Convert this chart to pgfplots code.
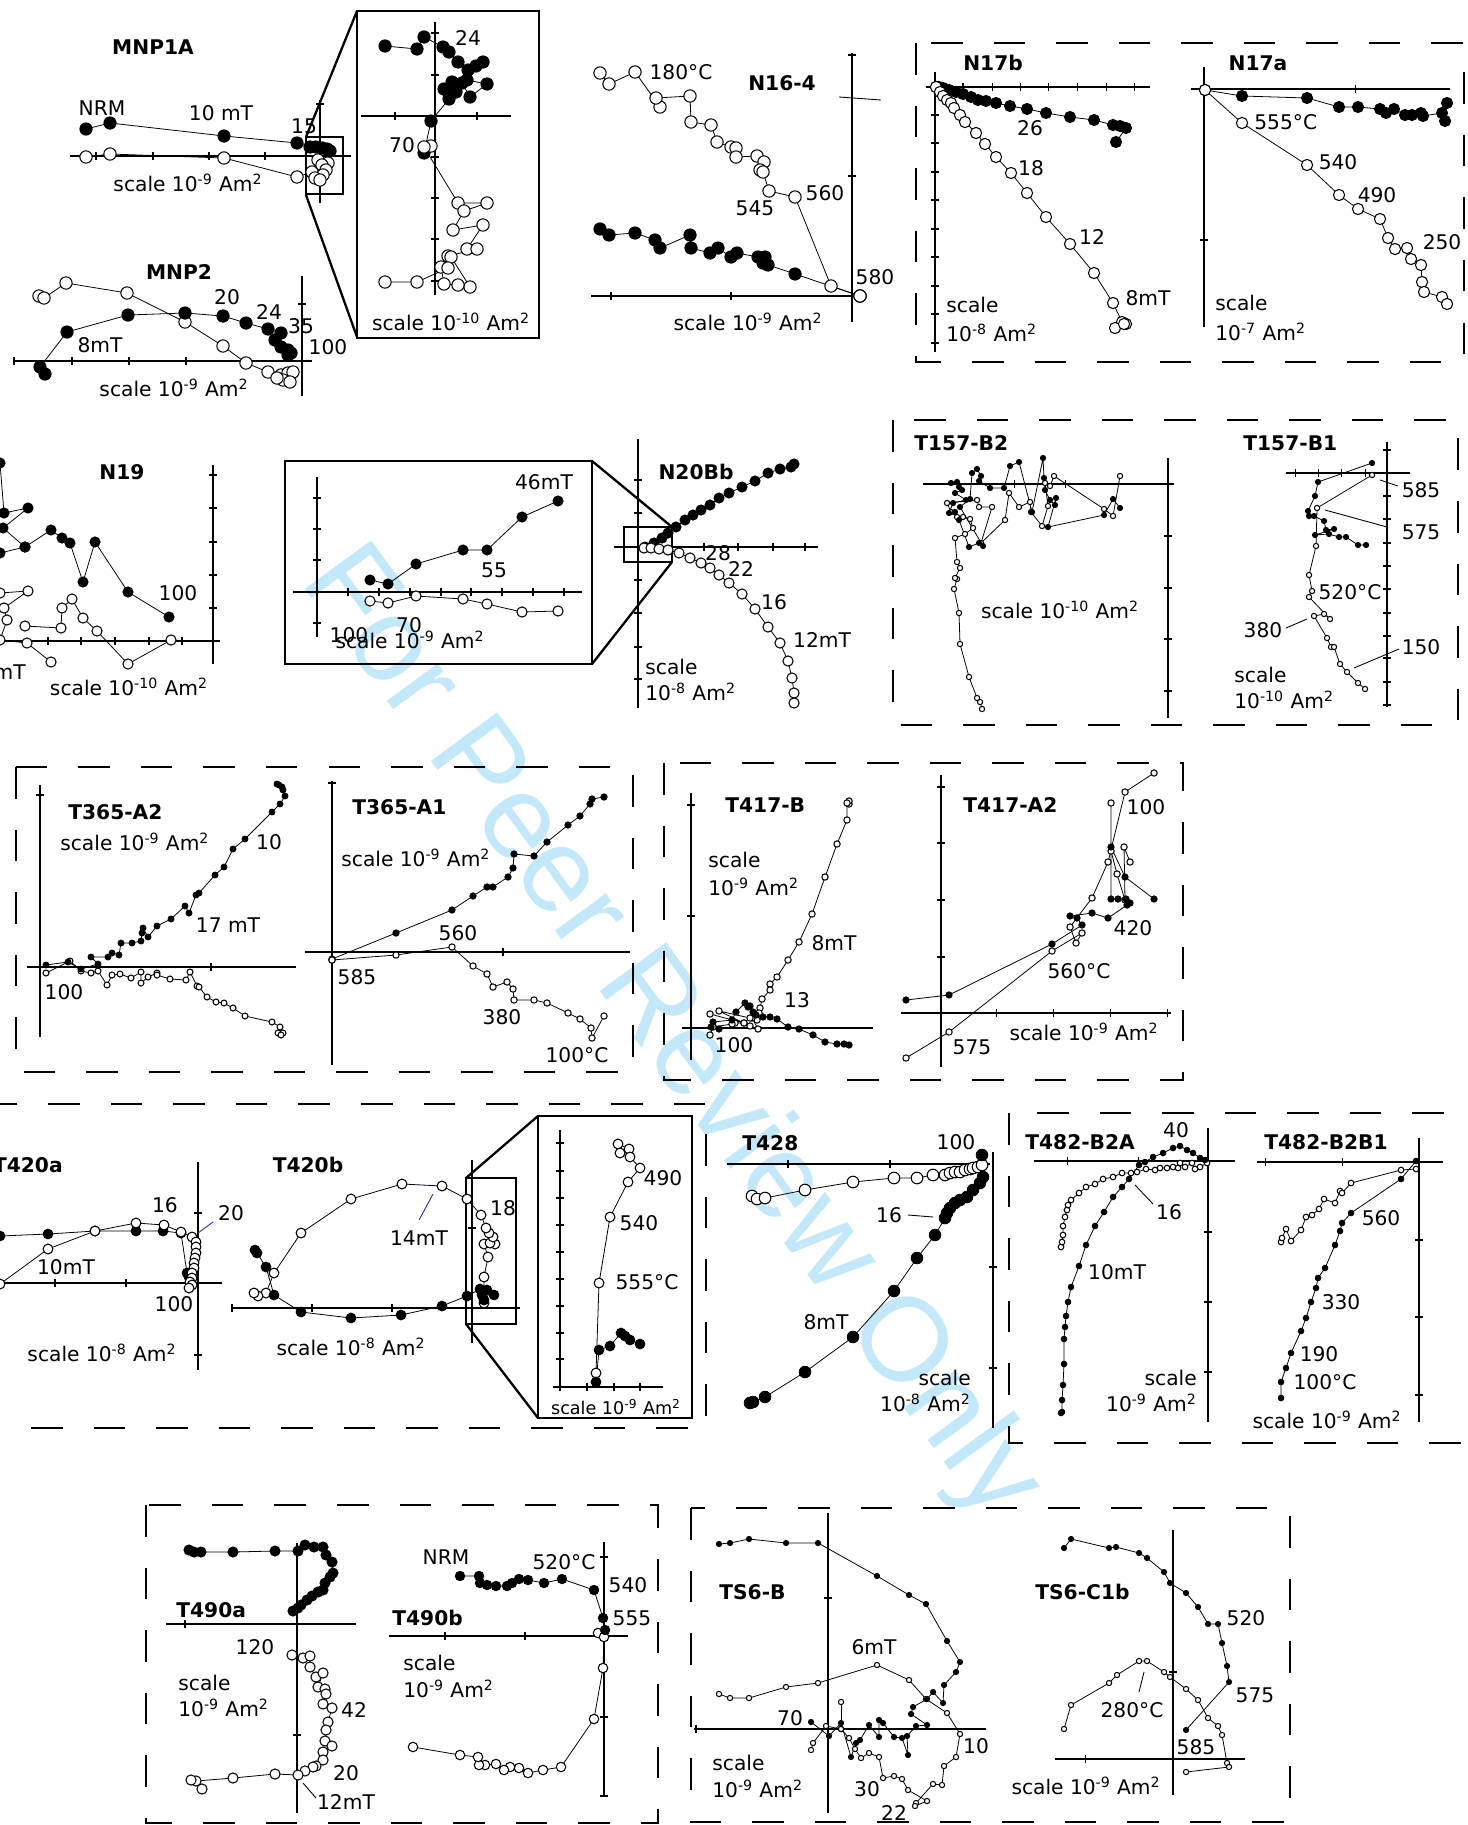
\documentclass[border=0pt]{standalone}
\usepackage{pgfplots}
\pgfplotsset{compat=1.18}
\usepackage{fontspec}
\setmainfont{DejaVu Sans}
\newfontfamily\wmfont{Liberation Sans}
\definecolor{wmc}{RGB}{195,232,250}
\definecolor{lead}{RGB}{40,40,170}
\newcommand{\scl}[1]{scale 10\textsuperscript{#1} Am\textsuperscript{2}}
\newcommand{\sce}[1]{10\textsuperscript{#1} Am\textsuperscript{2}}
\pgfplotsset{
 F/.style={black, line width=0.45pt, mark=*, mark options={fill=black, draw=black, line width=0.5pt}},
 O/.style={black, line width=0.45pt, mark=*, mark options={fill=white, draw=black, line width=0.6pt}},
 AX/.style={black, line width=0.7pt},
 TX/.style={black, only marks, mark=|, mark size=2.2pt, mark options={line width=0.6pt}},
 TY/.style={black, only marks, mark=-, mark size=2.2pt, mark options={line width=0.6pt}},
}
\tikzset{
 T/.style={font=\fontsize{11.5}{13}\selectfont, inner sep=0pt},
 S/.style={font=\fontsize{10}{12}\selectfont, inner sep=0pt},
 B/.style={font=\fontsize{11.5}{13}\selectfont\bfseries, inner sep=0pt},
 DB/.style={line width=1.6pt, dash pattern=on 0.63cm off 0.62cm},
 IB/.style={line width=1.3pt},
 LD/.style={line width=0.5pt},
}
\begin{document}
\begin{tikzpicture}
\begin{axis}[name=ax, at={(0,0)}, anchor=south west, scale only axis,
 width=29.34cm, height=36.5cm, xmin=0, xmax=1467, ymin=0, ymax=1825,
 y dir=reverse, hide axis, clip=false]

% watermark
\node[rotate=-53.8, text=wmc, font=\fontsize{68}{70}\selectfont\wmfont, inner sep=0pt] at (670,1035) {For Peer Review Only};

% ================= MNP1A =================
\addplot[AX] coordinates {(70,156) (351,156)};
\addplot[AX] coordinates {(320,100) (320,203)};
\addplot[TX] coordinates {(96,156) (153,156) (209,156) (265,156)};
\addplot[TY] coordinates {(320,104)};
\addplot[O, mark size=3.5pt] coordinates {(86,157) (110,154) (224,158) (297,177) (312,172) (318,160) (328,163) (322,165) (326,170) (323,175) (315,178) (320,180)};
\addplot[F, mark size=3.5pt] coordinates {(86,129) (110,123) (224,136) (297,143) (310,147) (316,147) (322,148) (327,149) (330,151)};
\draw[IB] (306,137) rectangle (343,194);
\draw[IB] (357,11) rectangle (539,338);
\draw[IB] (306,137) -- (357,11);
\draw[IB] (306,195) -- (357,337);
\addplot[AX] coordinates {(361,116) (511,116)};
\addplot[AX] coordinates {(435,22) (435,295)};
\addplot[TX] coordinates {(395,116) (477,116)};
\addplot[TY] coordinates {(435,33) (435,75) (435,157) (435,198) (435,239) (435,281)};
\addplot[F, mark size=3.5pt] coordinates {(385,46) (417,49) (424,37) (443,47) (449,52) (458,62) (468,70) (476,66) (483,62) (467,80) (487,84) (470,97) (462,83) (452,82) (444,89) (449,93) (456,92) (449,99) (431,121) (424,153)};
\addplot[O, mark size=3.5pt] coordinates {(431,146) (424,147) (458,203) (487,203) (464,211) (453,230) (483,225) (467,249) (477,249) (448,256) (451,257) (470,287) (458,285) (444,284) (441,267) (448,268) (417,282) (385,282)};
\node[B] at (153,47) {MNP1A};
\node[T] at (102,108) {NRM};
\node[T] at (221,113) {10 mT};
\node[T] at (304,126) {15};
\node[T] at (188,183) {\scl{-9}};
\node[T] at (468,38) {24};
\node[T] at (402,145) {70};
\node[T] at (451,322) {\scl{-10}};

% ================= MNP2 =================
\addplot[AX] coordinates {(14,361) (312,361)};
\addplot[AX] coordinates {(302,276) (302,396)};
\addplot[TX] coordinates {(14,361) (72,361) (129,361) (186,361) (244,361)};
\addplot[TY] coordinates {(302,304)};
\addplot[O, mark size=3.5pt] coordinates {(39,296) (44,298) (66,283) (127,293) (185,322) (223,346) (246,363) (268,372) (281,375) (288,373) (293,372) (283,380) (290,382) (277,378)};
\addplot[F, mark size=3.5pt] coordinates {(45,374) (40,367) (67,332) (128,315) (185,313) (223,316) (246,323) (268,329) (281,333) (275,340) (281,347) (288,350) (291,353) (288,355)};
\node[B] at (179,272) {MNP2};
\node[T] at (227,297) {20};
\node[T] at (269,312) {24};
\node[T] at (301,326) {35};
\node[T] at (328,347) {100};
\node[T] at (100,345) {8mT};
\node[T] at (174,388) {\scl{-9}};

% ================= N16-4 =================
\addplot[AX] coordinates {(591,296) (853,296)};
\addplot[AX] coordinates {(852,53) (852,322)};
\addplot[TX] coordinates {(611,296) (731,296)};
\addplot[TY] coordinates {(852,55) (852,176)};
\draw[LD] (839,97) -- (881,100);
\addplot[O, mark size=3.5pt] coordinates {(600,73) (609,84) (635,72) (660,107) (656,98) (690,96) (691,122) (711,125) (717,142) (731,147) (736,148) (736,157) (757,156) (764,162) (760,170) (763,172) (769,191) (795,197) (831,286) (860,296)};
\addplot[F, mark size=3.5pt] coordinates {(600,229) (609,235) (635,233) (655,240) (660,248) (690,235) (691,248) (710,253) (718,248) (731,257) (737,253) (758,257) (765,257) (763,263) (768,265) (795,274) (860,296)};
\addplot[O, mark size=3.5pt] coordinates {(860,296)};
\node[T] at (681,72) {180°C};
\node[B] at (782,83) {N16-4};
\node[T] at (825,193) {560};
\node[T] at (755,208) {545};
\node[T] at (875,277) {580};
\node[T] at (748,322) {\scl{-9}};

% ================= N17 box =================
\draw[DB] (916,43) rectangle (1464,362);
% N17b
\addplot[AX] coordinates {(926,87) (1150,87)};
\addplot[AX] coordinates {(935,72) (935,352)};
\addplot[TX] coordinates {(963,87) (992,87) (1020,87) (1048,87) (1077,87) (1106,87) (1134,87)};
\addplot[TY] coordinates {(935,115) (935,143) (935,172) (935,200) (935,229) (935,257) (935,286) (935,314) (935,343)};
\addplot[F, mark size=3.2pt] coordinates {(936,87) (939,87) (943,88) (949,90) (956,92) (963,94) (971,97) (978,100) (986,101) (996,103) (1010,106) (1027,109) (1046,113) (1070,117) (1094,120) (1113,125) (1120,126) (1126,128) (1116,142)};
\addplot[O, mark size=3.2pt] coordinates {(936,87) (940,92) (943,96) (947,100) (951,103) (954,108) (960,115) (965,122) (976,133) (985,144) (996,157) (1011,173) (1027,193) (1046,217) (1070,244) (1094,273) (1113,303) (1122,322) (1126,324) (1115,328) (1124,324)};
\node[B] at (993,63) {N17b};
\node[T] at (1030,128) {26};
\node[T] at (1031,168) {18};
\node[T] at (1092,237) {12};
\node[T] at (1148,298) {8mT};
\node[T, anchor=west] at (946,305) {scale};
\node[T, anchor=west] at (946,333) {\sce{-8}};
% N17a
\addplot[AX] coordinates {(1191,89) (1450,89)};
\addplot[AX] coordinates {(1204,67) (1204,327)};
\addplot[TX] coordinates {(1355,89)};
\addplot[TY] coordinates {(1204,240)};
\addplot[F, mark size=3.2pt] coordinates {(1205,90) (1242,96) (1307,98) (1339,107) (1358,107) (1380,109) (1386,113) (1394,109) (1405,115) (1412,115) (1421,113) (1423,116) (1442,113) (1447,103) (1445,121)};
\addplot[O, mark size=3.2pt] coordinates {(1205,90) (1242,123) (1307,165) (1339,195) (1358,209) (1380,219) (1388,238) (1395,249) (1407,248) (1411,259) (1421,265) (1422,282) (1424,292) (1442,297) (1447,304)};
\node[B] at (1258,63) {N17a};
\node[T, anchor=west] at (1254,122) {555°C};
\node[T] at (1338,162) {540};
\node[T] at (1377,195) {490};
\node[T] at (1442,242) {250};
\node[T, anchor=west] at (1215,303) {scale};
\node[T, anchor=west] at (1215,332) {\sce{-7}};

% ================= N19 =================
\addplot[AX] coordinates {(0,641) (220,641)};
\addplot[AX] coordinates {(213,465) (213,664)};
\addplot[TX] coordinates {(48,641) (81,641) (115,641) (149,641) (182,641)};
\addplot[TY] coordinates {(213,475) (213,508) (213,542) (213,575) (213,608)};
\addplot[O, mark size=2.9pt] coordinates {(0,593) (28,591) (4,608) (7,620) (0,640) (27,643) (51,662)};
\addplot[O, mark size=2.9pt] coordinates {(25,626) (61,628) (62,608) (72,599) (83,618) (97,631) (128,664) (171,640)};
\addplot[F, mark size=2.9pt] coordinates {(0,463) (4,513) (28,508) (3,528) (25,547) (51,530) (62,538) (70,543) (83,582) (95,542) (128,592) (169,617)};
\addplot[F, mark size=2.9pt] coordinates {(0,553) (25,547)};
\node[B] at (122,472) {N19};
\node[T] at (178,593) {100};
\node[T, anchor=east] at (26,672) {12mT};
\node[T] at (129,687) {\scl{-10}};

% ================= N20Bb =================
\addplot[AX] coordinates {(614,547) (818,547)};
\addplot[AX] coordinates {(638,439) (638,708)};
\addplot[TX] coordinates {(704,547) (738,547) (773,547) (805,547)};
\addplot[TY] coordinates {(638,480) (638,513) (638,580) (638,613) (638,647) (638,679)};
\addplot[F, mark size=2.9pt] coordinates {(645,547) (654,543) (662,538) (668,533) (676,527) (685,520) (693,515) (701,510) (710,505) (719,498) (729,493) (742,487) (755,481) (768,473) (780,469) (791,467) (794,464)};
\addplot[O, mark size=2.9pt] coordinates {(644,548) (651,548) (659,549) (668,550) (679,553) (690,558) (701,563) (710,568) (719,575) (729,583) (742,594) (755,609) (768,627) (780,643) (788,661) (792,678) (794,693) (794,703)};
\draw[IB] (624,527) rectangle (672,562);
\draw[IB] (285,461) rectangle (592,664);
\draw[IB] (592,461) -- (672,527);
\draw[IB] (592,664) -- (672,562);
\node[B] at (696,472) {N20Bb};
\node[T] at (718,553) {28};
\node[T] at (741,569) {22};
\node[T] at (774,602) {16};
\node[T] at (822,640) {12mT};
\node[T, anchor=west] at (645,667) {scale};
\node[T, anchor=west] at (645,692) {\sce{-8}};
% inset
\addplot[AX] coordinates {(293,592) (582,592)};
\addplot[AX] coordinates {(317,477) (317,637)};
\addplot[TX] coordinates {(348,592) (379,592) (410,592) (441,592) (471,592) (502,592) (533,592) (564,592)};
\addplot[TY] coordinates {(317,498) (317,529) (317,560) (317,623)};
\addplot[O, mark size=2.9pt] coordinates {(370,601) (388,603) (416,596) (463,599) (487,604) (522,612) (558,611)};
\addplot[F, mark size=2.9pt] coordinates {(370,580) (388,584) (416,564) (463,550) (487,550) (522,517) (558,501)};
\node[T] at (544,482) {46mT};
\node[T] at (494,570) {55};
\node[T] at (409,625) {70};
\node[T] at (349,635) {100};
\node[T] at (410,640) {\scl{-9}};

% ================= T157 =================
\draw[DB] (893,420) rectangle (1458,725);
% T157-B2
\addplot[AX] coordinates {(923,484) (1174,484)};
\addplot[AX] coordinates {(1168,458) (1168,718)};
\addplot[TX] coordinates {(1014,484) (1065,484)};
\addplot[TY] coordinates {(1168,536) (1168,588) (1168,639) (1168,691)};
\addplot[O, mark size=1.5pt] coordinates {(982,709) (980,702) (977,698) (969,677) (960,644) (959,613) (954,589) (957,579) (955,578) (960,568) (957,562) (955,538) (965,534) (973,528) (970,519) (963,517) (957,517) (951,512) (947,503) (977,500) (979,507) (992,507) (981,543) (1005,520) (1009,493) (1019,507) (1030,502) (1031,512) (1042,526) (1048,506) (1045,483) (1050,486) (1054,476) (1104,509) (1113,516) (1120,476)};
\addplot[F, mark size=1.5pt] coordinates {(951,483) (957,482) (959,487) (962,490) (955,493) (966,500) (953,503) (949,513) (955,512) (959,520) (969,547) (979,543) (983,546) (960,507) (970,499) (972,473) (977,469) (981,476) (979,481) (990,488) (1004,488) (1010,466) (1019,462) (1032,512) (1043,458) (1044,478) (1045,490) (1050,500) (1055,505) (1056,498) (1048,527) (1104,515) (1113,499) (1120,508)};
\node[B, anchor=west] at (914,443) {T157-B2};
\node[T] at (1060,610) {\scl{-10}};
% T157-B1
\addplot[AX] coordinates {(1286,473) (1410,473)};
\addplot[AX] coordinates {(1387,442) (1387,707)};
\addplot[TX] coordinates {(1295,473) (1318,473) (1341,473) (1365,473)};
\addplot[TY] coordinates {(1387,450) (1387,496) (1387,519) (1387,543) (1387,566) (1387,589) (1387,613) (1387,636) (1387,658) (1387,682) (1387,705)};
\addplot[O, mark size=1.5pt] coordinates {(1372,475) (1317,508) (1316,546) (1309,575) (1312,591) (1309,597) (1330,619) (1324,614) (1314,616) (1327,638) (1331,647) (1334,647) (1340,664) (1347,672) (1358,683) (1365,689)};
\addplot[F, mark size=1.5pt] coordinates {(1372,463) (1318,482) (1315,496) (1308,511) (1309,516) (1314,516) (1324,521) (1326,530) (1334,529) (1315,535) (1329,534) (1339,537) (1346,537) (1358,545) (1366,545)};
\draw[LD] (1380,480) -- (1398,486);
\draw[LD] (1325,510) -- (1387,527);
\draw[LD] (1286,628) -- (1307,619);
\draw[LD] (1354,668) -- (1399,649);
\node[B, anchor=west] at (1243,443) {T157-B1};
\node[T] at (1421,490) {585};
\node[T] at (1421,532) {575};
\node[T] at (1350,592) {520°C};
\node[T] at (1263,630) {380};
\node[T] at (1421,647) {150};
\node[T, anchor=west] at (1234,675) {scale};
\node[T, anchor=west] at (1234,700) {\sce{-10}};

% ================= T365 =================
\draw[DB] (16,767) rectangle (633,1072);
% T365-A2
\addplot[AX] coordinates {(27,967) (296,967)};
\addplot[AX] coordinates {(40,785) (40,1037)};
\addplot[TX] coordinates {(211,967)};
\addplot[TY] coordinates {(40,795)};
\addplot[O, mark size=1.7pt] coordinates {(46,973) (70,961) (81,971) (91,973) (98,971) (107,985) (112,975) (120,974) (131,978) (141,972) (141,983) (148,977) (157,973) (157,975) (170,979) (186,980) (190,972) (197,986) (199,987) (207,997) (216,1002) (224,1003) (233,1008) (245,1016) (272,1022) (280,1027) (278,1033) (283,1033) (281,1035)};
\addplot[F, mark size=1.7pt] coordinates {(46,965) (68,962) (81,969) (98,964) (91,957) (108,957) (112,953) (119,955) (121,943) (132,943) (141,941) (142,933) (143,928) (148,937) (157,926) (171,919) (185,906) (189,913) (196,895) (199,893) (215,875) (224,867) (233,849) (245,839) (272,812) (280,804) (285,796) (283,790) (279,785) (277,784) (282,787)};
\node[B, anchor=west] at (68,812) {T365-A2};
\node[T, anchor=west] at (60,842) {\scl{-9}};
\node[T] at (269,842) {10};
\node[T] at (228,925) {17 mT};
\node[T] at (64,992) {100};
% T365-A1
\addplot[AX] coordinates {(305,952) (630,952)};
\addplot[AX] coordinates {(332,781) (332,1065)};
\addplot[TX] coordinates {(503,952)};
\addplot[TY] coordinates {(332,783)};
\addplot[O, mark size=1.8pt] coordinates {(332,960) (396,955) (452,947) (473,966) (487,974) (493,987) (507,982) (513,989) (514,1000) (534,1000) (547,1003) (568,1013) (580,1019) (591,1028) (592,1038) (604,1016)};
\addplot[F, mark size=1.8pt] coordinates {(332,959) (396,933) (452,910) (473,896) (487,887) (493,887) (508,877) (513,868) (514,854) (534,856) (547,842) (568,825) (580,816) (590,804) (592,799) (604,797)};
\addplot[O, mark size=1.8pt] coordinates {(332,960)};
\node[B, anchor=west] at (352,807) {T365-A1};
\node[T, anchor=west] at (341,858) {\scl{-9}};
\node[T] at (458,933) {560};
\node[T] at (357,977) {585};
\node[T] at (502,1017) {380};
\node[T] at (577,1055) {100°C};

% ================= T417 =================
\draw[DB] (664,763) rectangle (1183,1080);
% T417-B
\addplot[AX] coordinates {(682,1028) (873,1028)};
\addplot[AX] coordinates {(691,793) (691,1060)};
\addplot[TY] coordinates {(691,805) (691,916)};
\addplot[O, mark size=1.8pt] coordinates {(849,804) (849,801) (847,803) (847,820) (837,844) (825,877) (812,914) (799,942) (788,960) (777,977) (770,984) (770,990) (762,999) (760,1008) (757,1020) (759,1013) (752,1018) (758,1029) (750,1026) (744,1023) (735,1023) (732,1024) (713,1027) (710,1035)};
\addplot[O, mark size=1.8pt] coordinates {(710,1014) (744,1023) (719,1011) (750,1018)};
\addplot[F, mark size=1.8pt] coordinates {(711,1027) (719,1029) (713,1022) (732,1020) (736,1012) (745,1003) (748,1007) (750,1006) (753,1012) (756,1015) (763,1017) (770,1017) (777,1019) (788,1027) (799,1029) (813,1035) (825,1042) (837,1044) (844,1044) (849,1045)};
\node[B, anchor=west] at (725,805) {T417-B};
\node[T, anchor=west] at (708,860) {scale};
\node[T, anchor=west] at (708,887) {\sce{-9}};
\node[T] at (834,943) {8mT};
\node[T] at (797,1000) {13};
\node[T] at (734,1045) {100};
% T417-A2
\addplot[AX] coordinates {(901,1013) (1171,1013)};
\addplot[AX] coordinates {(941,775) (941,1067)};
\addplot[TX] coordinates {(996,1013) (1053,1013) (1110,1013) (1167,1013)};
\addplot[TY] coordinates {(941,787) (941,843) (941,900) (941,957)};
\addplot[O, mark size=1.8pt] coordinates {(906,1058) (949,1032) (1052,951) (1082,933) (1076,943) (1070,927) (1092,898) (1108,862) (1125,792) (1154,773)};
\addplot[O, mark size=1.8pt] coordinates {(1111,803) (1111,851) (1117,874) (1125,900) (1124,847) (1130,862)};
\addplot[F, mark size=1.8pt] coordinates {(906,1000) (949,995) (1052,944) (1082,925) (1077,918) (1070,916) (1092,913) (1108,918) (1127,905) (1130,903) (1126,899) (1118,899) (1111,899) (1111,847) (1125,877) (1154,899)};
\node[B, anchor=west] at (963,805) {T417-A2};
\node[T] at (1146,807) {100};
\node[T] at (1133,928) {420};
\node[T] at (1079,971) {560°C};
\node[T] at (972,1047) {575};
\node[T] at (1084,1032) {\scl{-9}};

% ================= T420 =================
\draw[DB] (-20,1104) rectangle (706,1428);
% T420a
\addplot[AX] coordinates {(0,1283) (222,1283)};
\addplot[AX] coordinates {(198,1162) (198,1370)};
\addplot[TX] coordinates {(55,1283) (126,1283)};
\addplot[TY] coordinates {(198,1213) (198,1355)};
\addplot[F, mark size=2.8pt] coordinates {(0,1236) (48,1234) (95,1231) (136,1231) (163,1231) (181,1233) (187,1273) (189,1277) (191,1280)};
\addplot[O, mark size=2.8pt] coordinates {(0,1284) (48,1249) (95,1231) (136,1223) (164,1225) (181,1232) (192,1237) (196,1242) (196,1247) (196,1253) (195,1258) (194,1263) (194,1268) (192,1273) (192,1278) (190,1282) (192,1285) (189,1288)};
\draw[LD, lead] (213,1222) -- (198,1233);
\node[B, anchor=east] at (63,1165) {T420a};
\node[T] at (165,1205) {16};
\node[T] at (231,1213) {20};
\node[T] at (66,1267) {10mT};
\node[T] at (174,1304) {100};
\node[T] at (102,1353) {\scl{-8}};
% T420b
\addplot[AX] coordinates {(232,1308) (520,1308)};
\addplot[AX] coordinates {(472,1160) (472,1343)};
\addplot[TX] coordinates {(232,1308) (312,1308) (392,1308)};
\addplot[TY] coordinates {(472,1228)};
\addplot[O, mark size=2.8pt] coordinates {(484,1303) (484,1277) (488,1257) (484,1244) (495,1244) (490,1243) (493,1237) (489,1233) (486,1228) (481,1215) (467,1199) (442,1186) (402,1184) (351,1199) (301,1233) (274,1273) (266,1293) (258,1296) (254,1293)};
\addplot[F, mark size=2.8pt] coordinates {(484,1300) (482,1295) (494,1295) (487,1290) (480,1289) (467,1296) (442,1306) (401,1315) (351,1318) (301,1312) (274,1295) (266,1267) (257,1253) (255,1250)};
\draw[IB] (466,1178) rectangle (516,1324);
\draw[IB] (538,1116) rectangle (692,1418);
\draw[IB] (466,1178) -- (538,1116);
\draw[IB] (466,1324) -- (538,1418);
\draw[LD, lead] (433,1194) -- (419,1220);
\node[B] at (308,1165) {T420b};
\node[T] at (503,1208) {18};
\node[T] at (419,1238) {14mT};
\node[T] at (351,1347) {\scl{-8}};
% inset
\addplot[AX] coordinates {(553,1387) (663,1387)};
\addplot[AX] coordinates {(560,1130) (560,1391)};
\addplot[TX] coordinates {(587,1387) (614,1387) (640,1387)};
\addplot[TY] coordinates {(560,1143) (560,1171) (560,1198) (560,1225) (560,1252) (560,1279) (560,1306) (560,1333) (560,1359)};
\addplot[O, mark size=2.8pt] coordinates {(618,1144) (629,1149) (620,1153) (630,1157) (640,1168) (628,1182) (610,1217) (599,1283) (596,1373)};
\addplot[F, mark size=2.8pt] coordinates {(596,1382) (599,1350) (610,1346) (621,1333) (625,1336) (630,1340) (640,1344)};
\node[T] at (663,1178) {490};
\node[T] at (639,1223) {540};
\node[T] at (647,1282) {555°C};
\node[S] at (616,1407) {\scl{-9}};

% ================= T428 =================
\addplot[AX] coordinates {(727,1164) (990,1164)};
\addplot[AX] coordinates {(993,1152) (993,1428)};
\addplot[TX] coordinates {(788,1164) (890,1164)};
\addplot[TY] coordinates {(993,1267) (993,1368)};
\addplot[O, mark size=3.3pt] coordinates {(752,1196) (757,1199) (765,1198) (805,1190) (853,1182) (894,1178) (917,1178) (933,1175) (945,1175) (950,1173) (955,1172) (960,1172) (965,1170) (970,1169) (973,1168) (978,1167) (982,1165)};
\addplot[F, mark size=3.3pt] coordinates {(982,1155) (983,1177) (980,1183) (973,1190) (967,1197) (960,1200) (955,1203) (950,1208) (947,1213) (945,1218) (935,1235) (917,1258) (894,1291) (853,1337) (805,1372) (765,1397) (753,1402) (750,1403)};
\draw[LD] (908,1215) -- (933,1217);
\node[B, anchor=west] at (742,1143) {T428};
\node[T] at (956,1142) {100};
\node[T] at (889,1215) {16};
\node[T] at (826,1322) {8mT};
\node[T, anchor=east] at (971,1378) {scale};
\node[T, anchor=east] at (971,1403) {\sce{-8}};

% ================= T482 =================
\draw[DB] (1009,1113) rectangle (1490,1443);
% T482-B2A
\addplot[AX] coordinates {(1034,1161) (1235,1161)};
\addplot[AX] coordinates {(1208,1128) (1208,1422)};
\addplot[TX] coordinates {(1067,1161) (1138,1161)};
\addplot[TY] coordinates {(1208,1232) (1208,1302) (1208,1372)};
\addplot[O, mark size=1.6pt] coordinates {(1061,1247) (1062,1242) (1063,1235) (1063,1226) (1065,1217) (1067,1210) (1068,1205) (1071,1200) (1079,1193) (1086,1187) (1095,1184) (1103,1179) (1113,1177) (1122,1173) (1131,1173) (1137,1172) (1146,1169) (1155,1170) (1160,1168) (1167,1168) (1173,1167) (1178,1168) (1180,1163) (1185,1167) (1192,1163) (1195,1169) (1200,1167) (1207,1163)};
\addplot[F, mark size=1.6pt] coordinates {(1061,1413) (1062,1412) (1062,1400) (1063,1385) (1064,1364) (1064,1339) (1065,1327) (1066,1316) (1068,1302) (1071,1287) (1079,1266) (1086,1245) (1095,1226) (1104,1212) (1113,1197) (1122,1187) (1129,1179) (1139,1165) (1145,1162) (1153,1157) (1163,1153) (1173,1148) (1180,1146) (1187,1150) (1193,1153) (1200,1158) (1205,1160)};
\draw[LD] (1135,1185) -- (1153,1204);
\node[B, anchor=west] at (1025,1142) {T482-B2A};
\node[T] at (1176,1130) {40};
\node[T] at (1169,1212) {16};
\node[T] at (1117,1272) {10mT};
\node[T, anchor=east] at (1197,1378) {scale};
\node[T, anchor=east] at (1197,1403) {\sce{-9}};
% T482-B2B1
\addplot[AX] coordinates {(1257,1162) (1443,1162)};
\addplot[AX] coordinates {(1419,1138) (1419,1422)};
\addplot[TX] coordinates {(1265,1162) (1342,1162)};
\addplot[TY] coordinates {(1419,1240) (1419,1317) (1419,1395)};
\addplot[O, mark size=1.6pt] coordinates {(1281,1242) (1282,1238) (1286,1229) (1291,1241) (1301,1230) (1306,1217) (1312,1215) (1319,1209) (1324,1199) (1335,1203) (1340,1191) (1342,1193) (1351,1183) (1401,1170) (1416,1169)};
\addplot[F, mark size=1.6pt] coordinates {(1281,1398) (1281,1382) (1286,1368) (1291,1353) (1301,1331) (1306,1318) (1311,1302) (1316,1288) (1318,1278) (1325,1268) (1335,1245) (1340,1231) (1342,1223) (1351,1213) (1401,1179) (1416,1161)};
\node[B, anchor=west] at (1264,1142) {T482-B2B1};
\node[T] at (1381,1218) {560};
\node[T] at (1341,1302) {330};
\node[T] at (1319,1354) {190};
\node[T] at (1325,1382) {100°C};
\node[T] at (1327,1420) {\scl{-9}};

% ================= T490 =================
\draw[DB] (146,1505) rectangle (658,1823);
% T490a
\addplot[AX] coordinates {(166,1624) (356,1624)};
\addplot[AX] coordinates {(297,1543) (297,1813)};
\addplot[TX] coordinates {(185,1624)};
\addplot[TY] coordinates {(297,1735)};
\addplot[O, mark size=2.9pt] coordinates {(292,1655) (303,1658) (310,1656) (310,1667) (316,1677) (323,1673) (318,1687) (325,1689) (326,1694) (323,1704) (332,1708) (328,1722) (326,1730) (325,1741) (332,1746) (323,1752) (323,1760) (316,1766) (313,1767) (305,1771) (298,1775) (275,1774) (233,1778) (196,1781) (191,1780) (202,1789)};
\addplot[F, mark size=2.9pt] coordinates {(189,1550) (194,1552) (201,1552) (233,1552) (275,1551) (298,1551) (305,1545) (314,1547) (323,1547) (326,1555) (332,1562) (333,1573) (330,1577) (325,1583) (323,1590) (318,1592) (312,1596) (307,1600) (301,1605) (298,1608) (293,1611)};
\draw[LD] (303,1783) -- (316,1798);
\node[B, anchor=west] at (176,1610) {T490a};
\node[T] at (255,1647) {120};
\node[T, anchor=west] at (178,1683) {scale};
\node[T, anchor=west] at (178,1708) {\sce{-9}};
\node[T] at (354,1710) {42};
\node[T] at (346,1773) {20};
\node[T] at (346,1802) {12mT};
% T490b
\addplot[AX] coordinates {(389,1636) (628,1636)};
\addplot[AX] coordinates {(604,1542) (604,1796)};
\addplot[TX] coordinates {(445,1636) (525,1636)};
\addplot[TY] coordinates {(604,1557) (604,1717) (604,1796)};
\addplot[O, mark size=2.7pt] coordinates {(598,1633) (604,1637) (603,1668) (594,1719) (561,1767) (543,1770) (528,1773) (519,1768) (510,1767) (504,1770) (496,1764) (485,1765) (479,1765) (478,1757) (460,1755) (413,1747)};
\addplot[F, mark size=2.7pt] coordinates {(460,1576) (479,1576) (480,1583) (487,1585) (496,1586) (507,1586) (512,1583) (519,1579) (528,1580) (544,1583) (562,1579) (594,1590) (603,1618) (605,1630)};
\node[T] at (446,1557) {NRM};
\node[T] at (564,1562) {520°C};
\node[T] at (628,1585) {540};
\node[T] at (632,1618) {555};
\node[B, anchor=west] at (392,1618) {T490b};
\node[T, anchor=west] at (403,1663) {scale};
\node[T, anchor=west] at (403,1689) {\sce{-9}};

% ================= TS6 =================
\draw[DB] (691,1508) rectangle (1290,1822);
% TS6-B
\addplot[AX] coordinates {(694,1729) (986,1729)};
\addplot[AX] coordinates {(828,1513) (828,1813)};
\addplot[TX] coordinates {(696,1729)};
\addplot[TY] coordinates {(828,1598)};
\addplot[O, mark size=1.5pt] coordinates {(719,1694) (730,1698) (749,1698) (786,1687) (818,1683) (877,1665) (909,1680) (926,1699) (947,1713) (960,1734) (956,1757) (944,1766) (942,1785) (933,1784) (916,1803) (915,1806) (927,1801) (908,1790) (902,1779) (894,1776) (883,1778) (879,1757) (869,1753) (861,1758) (855,1749) (849,1738) (841,1729) (826,1726) (813,1743) (811,1750)};
\addplot[O, mark size=1.5pt] coordinates {(841,1702) (841,1729)};
\addplot[F, mark size=1.5pt] coordinates {(719,1544) (730,1543) (749,1539) (786,1543) (818,1543) (877,1576) (909,1595) (926,1604) (947,1641) (960,1662) (956,1672) (944,1685) (943,1703) (933,1692) (927,1699) (913,1707) (911,1714) (927,1725) (916,1726) (907,1736) (908,1755) (902,1738) (894,1737) (883,1723) (879,1720) (879,1737) (869,1725) (860,1740) (856,1743) (851,1757) (841,1723) (829,1736) (811,1722)};
\node[B, anchor=west] at (719,1592) {TS6-B};
\node[T] at (874,1647) {6mT};
\node[T] at (790,1718) {70};
\node[T] at (976,1746) {10};
\node[T] at (867,1789) {30};
\node[T] at (894,1813) {22};
\node[T, anchor=west] at (712,1763) {scale};
\node[T, anchor=west] at (712,1789) {\sce{-9}};
% TS6-C1b
\addplot[AX] coordinates {(1055,1759) (1245,1759)};
\addplot[AX] coordinates {(1173,1530) (1173,1795)};
\addplot[TX] coordinates {(1085,1759)};
\addplot[TY] coordinates {(1173,1672)};
\addplot[O, mark size=1.5pt] coordinates {(1064,1729) (1071,1705) (1109,1683) (1117,1675) (1139,1661) (1147,1661) (1164,1672) (1170,1677) (1186,1689) (1198,1700) (1208,1718) (1218,1726) (1222,1735) (1227,1763) (1229,1767) (1186,1772)};
\addplot[F, mark size=1.5pt] coordinates {(1064,1548) (1071,1539) (1109,1548) (1116,1547) (1139,1553) (1147,1558) (1164,1572) (1170,1583) (1186,1593) (1198,1607) (1208,1624) (1218,1624) (1222,1643) (1227,1666) (1229,1682) (1186,1730)};
\draw[LD] (1144,1672) -- (1139,1692);
\node[B, anchor=west] at (1035,1592) {TS6-C1b};
\node[T] at (1246,1618) {520};
\node[T] at (1255,1695) {575};
\node[T] at (1196,1747) {585};
\node[T] at (1132,1710) {280°C};
\node[T] at (1086,1786) {\scl{-9}};

\end{axis}
\pgfresetboundingbox
\path (ax.south west) rectangle (ax.north east);
\end{tikzpicture}
\end{document}
